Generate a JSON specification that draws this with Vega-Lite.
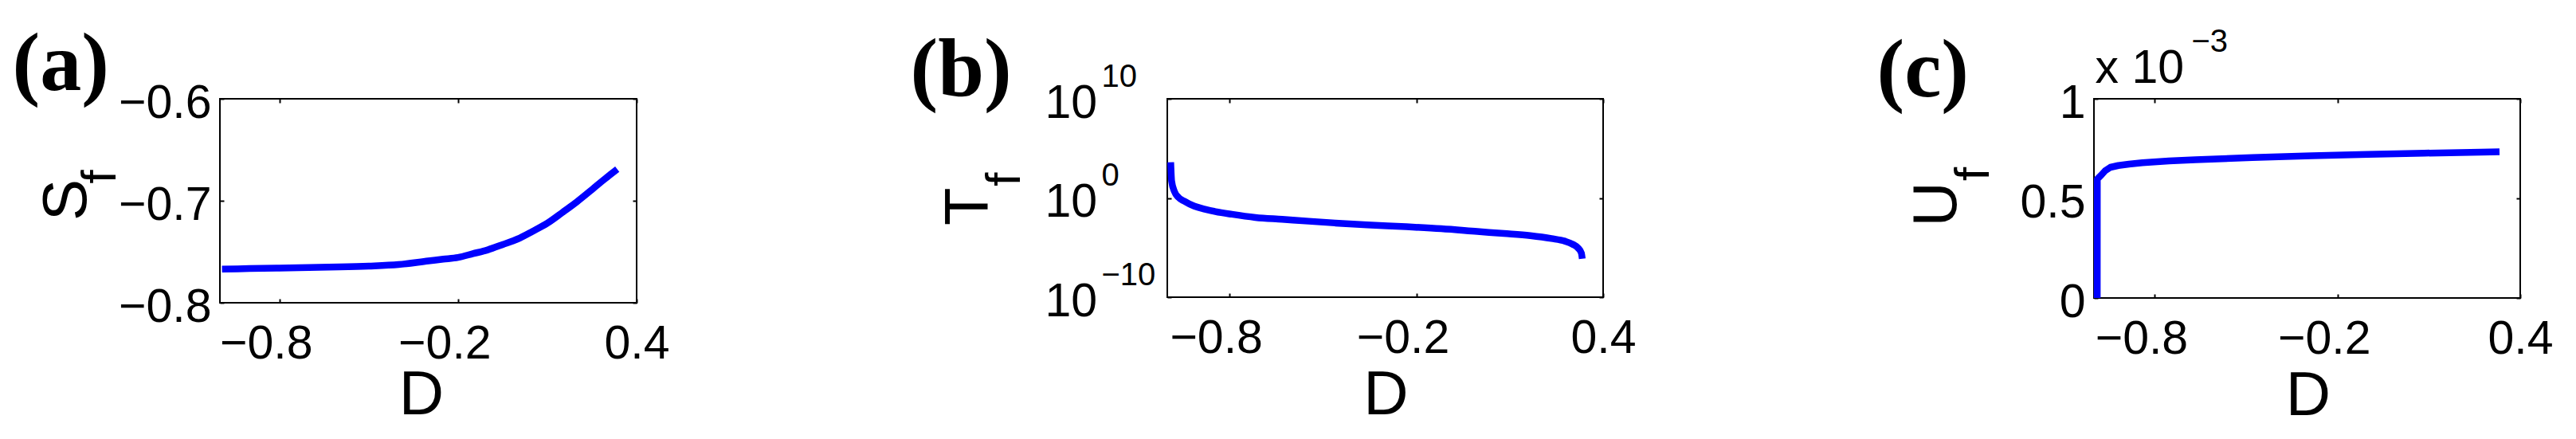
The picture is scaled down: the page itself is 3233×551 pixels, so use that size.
{
  "$schema": "https://vega.github.io/schema/vega-lite/v6.json",
  "background": "white",
  "padding": {"left": 14, "top": 28, "right": 5, "bottom": 5},
  "spacing": 299,
  "config": {
    "view": {"stroke": "black", "strokeWidth": 2},
    "axis": {
      "grid": false, "domain": false,
      "labelFont": "Liberation Sans", "titleFont": "Liberation Sans",
      "labelColor": "black", "titleColor": "black", "tickColor": "black",
      "labelFlush": false, "labelOverlap": false, "labelBound": false,
      "titleFontWeight": "normal", "tickWidth": 2, "tickSize": -5,
      "labelFontSize": 59, "titleFontSize": 78
    }
  },
  "hconcat": [
    {
      "width": 523, "height": 256,
      "data": {"values": [
        {"D": -0.993, "S": -0.767}, {"D": -0.9, "S": -0.7665}, {"D": -0.8, "S": -0.766},
        {"D": -0.7, "S": -0.7655}, {"D": -0.6, "S": -0.7649}, {"D": -0.5, "S": -0.764},
        {"D": -0.4, "S": -0.7625}, {"D": -0.3, "S": -0.759}, {"D": -0.25, "S": -0.7573},
        {"D": -0.2, "S": -0.7556}, {"D": -0.15, "S": -0.7519}, {"D": -0.1, "S": -0.7481},
        {"D": -0.05, "S": -0.7429}, {"D": 0.0, "S": -0.7375}, {"D": 0.05, "S": -0.730},
        {"D": 0.1, "S": -0.722}, {"D": 0.15, "S": -0.7116}, {"D": 0.2, "S": -0.7008},
        {"D": 0.25, "S": -0.689}, {"D": 0.3, "S": -0.677}, {"D": 0.335, "S": -0.669}
      ]},
      "layer": [
        {
          "mark": {"type": "line", "color": "#0000ff", "strokeWidth": 8.5, "interpolate": "monotone", "strokeCap": "butt"},
          "encoding": {
            "x": {"field": "D", "type": "quantitative", "scale": {"domain": [-1, 0.4], "nice": false, "zero": false},
              "axis": {"orient": "bottom", "values": [-0.8, -0.2, 0.4], "format": ".1f",
                "labelOffset": {"condition": {"test": "datum.value < 0", "value": -17}, "value": 0},
                "labelPadding": 27, "title": "D", "titleX": 252.5, "titleY": 139, "titleAlign": "center", "titleBaseline": "alphabetic", "titleAngle": 0}},
            "y": {"field": "S", "type": "quantitative", "scale": {"domain": [-0.8, -0.6], "nice": false, "zero": false},
              "axis": {"orient": "left", "values": [-0.8, -0.7, -0.6], "format": ".1f", "labelPadding": 16, "labelOffset": 5,
                "title": "S", "titleX": -169, "titleY": 126.5, "titleAngle": 270, "titleAlign": "center", "titleBaseline": "alphabetic"}}
          }
        },
        {
          "mark": {"type": "line", "opacity": 0},
          "encoding": {
            "x": {"field": "D", "type": "quantitative", "scale": {"domain": [-1, 0.4], "nice": false, "zero": false},
              "axis": {"orient": "top", "values": [-0.8, -0.2, 0.4], "labels": false,
                "title": "(a)", "titleFont": "Liberation Serif", "titleFontWeight": "bold", "titleFontSize": 104,
                "titleX": -261, "titleY": -12, "titleAlign": "left", "titleBaseline": "alphabetic", "titleAngle": 0}},
            "y": {"field": "S", "type": "quantitative", "scale": {"domain": [-0.8, -0.6], "nice": false, "zero": false},
              "axis": {"orient": "right", "values": [-0.8, -0.7, -0.6], "labels": false,
                "title": "f", "titleFontSize": 62, "titleX": -655, "titleY": 97.5, "titleAngle": 270, "titleAlign": "center", "titleBaseline": "alphabetic"}}
          }
        }
      ],
      "resolve": {"axis": {"x": "independent", "y": "independent"}}
    },
    {
      "width": 547, "height": 249,
      "data": {"values": [
        {"D": -0.989, "T": 3981}, {"D": -0.986, "T": 50.12}, {"D": -0.977, "T": 4.467},
        {"D": -0.964, "T": 1.148}, {"D": -0.947, "T": 0.5012}, {"D": -0.913, "T": 0.1479},
        {"D": -0.879, "T": 0.07413}, {"D": -0.845, "T": 0.04266}, {"D": -0.793, "T": 0.02291},
        {"D": -0.717, "T": 0.01096}, {"D": -0.631, "T": 0.007079}, {"D": -0.546, "T": 0.004571},
        {"D": -0.461, "T": 0.00302}, {"D": -0.358, "T": 0.001905}, {"D": -0.233, "T": 0.001259},
        {"D": -0.12, "T": 0.0007943}, {"D": -0.004, "T": 0.0004169}, {"D": 0.081, "T": 0.000263},
        {"D": 0.166, "T": 0.0001585}, {"D": 0.234, "T": 0.00008128}, {"D": 0.277, "T": 0.00004467},
        {"D": 0.303, "T": 0.00002089}, {"D": 0.32, "T": 0.00000871}, {"D": 0.33, "T": 0.000002884},
        {"D": 0.333, "T": 0.0000007413}
      ]},
      "layer": [
        {
          "mark": {"type": "line", "color": "#0000ff", "strokeWidth": 8.5, "interpolate": "monotone", "strokeCap": "butt"},
          "encoding": {
            "x": {"field": "D", "type": "quantitative", "scale": {"domain": [-1, 0.4], "nice": false, "zero": false},
              "axis": {"orient": "bottom", "values": [-0.8, -0.2, 0.4], "format": ".1f",
                "labelOffset": {"condition": {"test": "datum.value < 0", "value": -17}, "value": 0},
                "labelPadding": 27, "title": "D", "titleX": 274, "titleY": 146, "titleAlign": "center", "titleBaseline": "alphabetic", "titleAngle": 0}},
            "y": {"field": "T", "type": "quantitative", "scale": {"type": "log", "domain": [1e-10, 1e10], "nice": false},
              "axis": {"orient": "left", "values": [1e-10, 1, 1e10], "labelExpr": "'10'", "labelAlign": "left", "labelPadding": 159, "labelOffset": 5,
                "title": "T", "titleX": -226, "titleY": 134.7, "titleAngle": 270, "titleAlign": "center", "titleBaseline": "alphabetic"}}
          }
        },
        {
          "mark": {"type": "line", "opacity": 0},
          "encoding": {
            "x": {"field": "D", "type": "quantitative", "scale": {"domain": [-1, 0.4], "nice": false, "zero": false},
              "axis": {"orient": "top", "values": [-0.8, -0.2, 0.4], "labels": false,
                "title": "(b)", "titleFont": "Liberation Serif", "titleFontWeight": "bold", "titleFontSize": 104,
                "titleX": -323, "titleY": -5, "titleAlign": "left", "titleBaseline": "alphabetic", "titleAngle": 0}},
            "y": {"field": "T", "type": "quantitative", "scale": {"type": "log", "domain": [1e-10, 1e10], "nice": false},
              "axis": {"orient": "right", "values": [1e-10, 1, 1e10], "labels": false,
                "title": "f", "titleFontSize": 62, "titleX": -733, "titleY": 100.6, "titleAngle": 270, "titleAlign": "center", "titleBaseline": "alphabetic"}}
          }
        },
        {
          "mark": {"type": "line", "opacity": 0},
          "encoding": {
            "x": {"field": "D", "type": "quantitative", "scale": {"domain": [-1, 0.4], "nice": false, "zero": false}, "axis": null},
            "y": {"field": "T", "type": "quantitative", "scale": {"type": "log", "domain": [1e-10, 1e10], "nice": false},
              "axis": {"orient": "left", "values": [1e-10, 1, 1e10], "ticks": false,
                "labelExpr": "format(round(log(datum.value)/LN10), 'd')", "labelFontSize": 40,
                "labelAlign": "left", "labelPadding": 83, "labelOffset": -28, "title": null}}
          }
        }
      ],
      "resolve": {"axis": {"x": "independent", "y": "independent"}}
    },
    {
      "width": 535, "height": 250,
      "data": {"values": [
        {"D": -0.9892, "U": 0}, {"D": -0.989, "U": 0.000597}, {"D": -0.976, "U": 0.000617},
        {"D": -0.963, "U": 0.000639}, {"D": -0.946, "U": 0.000656}, {"D": -0.92, "U": 0.000665},
        {"D": -0.885, "U": 0.000672}, {"D": -0.841, "U": 0.000679}, {"D": -0.754, "U": 0.000688},
        {"D": -0.667, "U": 0.000694}, {"D": -0.579, "U": 0.000699}, {"D": -0.48, "U": 0.000705},
        {"D": -0.285, "U": 0.000714}, {"D": -0.1, "U": 0.000721}, {"D": 0.085, "U": 0.000727},
        {"D": 0.27, "U": 0.000732}, {"D": 0.332, "U": 0.000734}
      ]},
      "layer": [
        {
          "mark": {"type": "line", "color": "#0000ff", "strokeWidth": 8.5, "strokeCap": "butt", "strokeJoin": "round"},
          "encoding": {
            "x": {"field": "D", "type": "quantitative", "scale": {"domain": [-1, 0.4], "nice": false, "zero": false},
              "axis": {"orient": "bottom", "values": [-0.8, -0.2, 0.4], "format": ".1f",
                "labelOffset": {"condition": {"test": "datum.value < 0", "value": -17}, "value": 0},
                "labelPadding": 27, "title": "D", "titleX": 268.3, "titleY": 146, "titleAlign": "center", "titleBaseline": "alphabetic", "titleAngle": 0}},
            "y": {"field": "U", "type": "quantitative", "scale": {"domain": [0, 0.001], "nice": false, "zero": false},
              "axis": {"orient": "left", "values": [0, 0.0005, 0.001], "labelExpr": "format(datum.value*1000, '~g')", "labelPadding": 16, "labelOffset": 5,
                "title": "U", "titleX": -173.5, "titleY": 131.8, "titleAngle": 270, "titleAlign": "center", "titleBaseline": "alphabetic"}}
          }
        },
        {
          "mark": {"type": "line", "opacity": 0},
          "encoding": {
            "x": {"field": "D", "type": "quantitative", "scale": {"domain": [-1, 0.4], "nice": false, "zero": false},
              "axis": {"orient": "top", "values": [-0.8, -0.2, 0.4], "labels": false,
                "title": "(c)", "titleFont": "Liberation Serif", "titleFontWeight": "bold", "titleFontSize": 104,
                "titleX": -273, "titleY": -4, "titleAlign": "left", "titleBaseline": "alphabetic", "titleAngle": 0}},
            "y": {"field": "U", "type": "quantitative", "scale": {"domain": [0, 0.001], "nice": false, "zero": false},
              "axis": {"orient": "right", "values": [0, 0.0005, 0.001], "labels": false,
                "title": "f", "titleFontSize": 62, "titleX": -668, "titleY": 94, "titleAngle": 270, "titleAlign": "center", "titleBaseline": "alphabetic"}}
          }
        },
        {
          "mark": {"type": "line", "opacity": 0},
          "encoding": {
            "x": {"field": "D", "type": "quantitative", "scale": {"domain": [-1, 0.4], "nice": false, "zero": false},
              "axis": {"orient": "top", "ticks": false, "labels": false,
                "title": "x 10", "titleFontSize": 59, "titleX": 1, "titleY": -21, "titleAlign": "left", "titleBaseline": "alphabetic", "titleAngle": 0}},
            "y": {"field": "U", "type": "quantitative", "scale": {"domain": [0, 0.001], "nice": false, "zero": false},
              "axis": {"orient": "left", "ticks": false, "labels": false,
                "title": "−3", "titleFontSize": 40, "titleX": 122, "titleY": -60, "titleAlign": "left", "titleBaseline": "alphabetic", "titleAngle": 0}}
          }
        }
      ],
      "resolve": {"axis": {"x": "independent", "y": "independent"}}
    }
  ]
}
